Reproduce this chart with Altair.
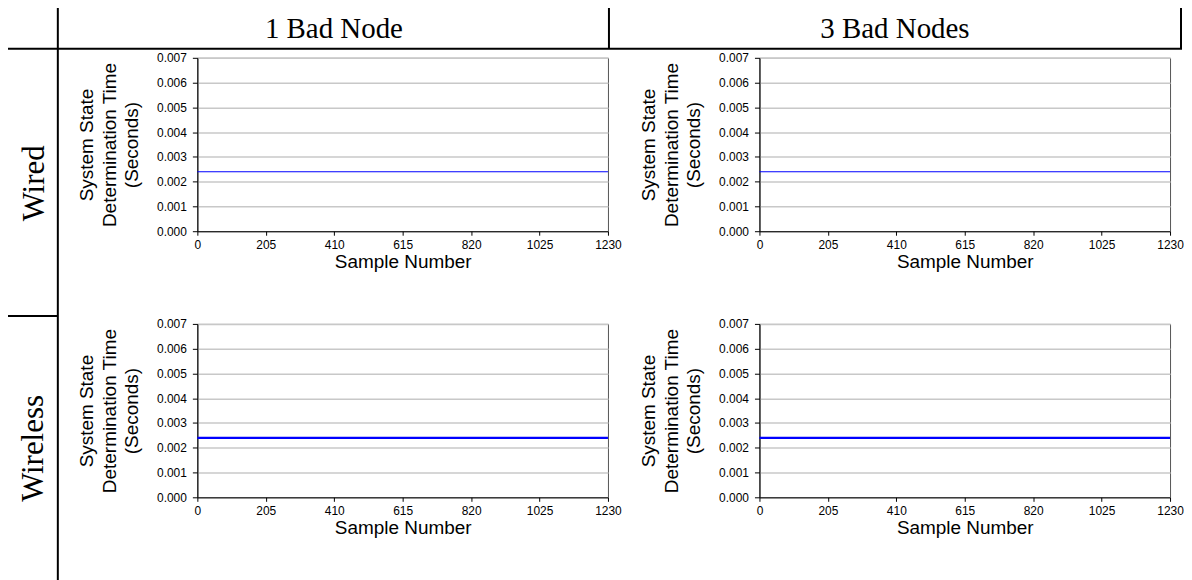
import altair as alt
import pandas as pd

# ---- data ----
col_labels = ["1 Bad Node", "3 Bad Nodes"]
row_labels = ["Wired", "Wireless"]
sample_number = [0, 205, 410, 615, 820, 1025, 1230]
wired_1bad = [0.0024, 0.0024, 0.0024, 0.0024, 0.0024, 0.0024, 0.0024]
wired_3bad = [0.0024, 0.0024, 0.0024, 0.0024, 0.0024, 0.0024, 0.0024]
wireless_1bad = [0.0024, 0.0024, 0.0024, 0.0024, 0.0024, 0.0024, 0.0024]
wireless_3bad = [0.0024, 0.0024, 0.0024, 0.0024, 0.0024, 0.0024, 0.0024]
x_ticks = [0, 205, 410, 615, 820, 1025, 1230]
y_ticks = [0.000, 0.001, 0.002, 0.003, 0.004, 0.005, 0.006, 0.007]
y_title = ["System State", "Determination Time", "(Seconds)"]
x_title = "Sample Number"

W, H = 412, 174
SERIF = "Liberation Serif"
SANS = "Liberation Sans"

one = alt.Data(values=[{"k": 0}])


def panel(values, stroke_width, extras=None):
    df = pd.DataFrame({"sample": sample_number, "time": values})
    line = alt.Chart(df).mark_line(color="#0000ff", strokeWidth=stroke_width).encode(
        x=alt.X("sample:Q",
                scale=alt.Scale(domain=[0, 1230], nice=False, zero=False),
                axis=alt.Axis(values=x_ticks, format="d", title=x_title, grid=False,
                              tickSize=4, labelPadding=4, titlePadding=2,
                              labelFlush=False)),
        y=alt.Y("time:Q",
                scale=alt.Scale(domain=[0, 0.007], nice=False),
                axis=alt.Axis(values=y_ticks, format=".3f", title=y_title,
                              grid=True, tickSize=5, labelPadding=6,
                              titlePadding=15, titleLineHeight=22.5)),
    ).properties(width=W, height=H)
    layers = [line]
    if extras:
        layers += extras
    return alt.layer(*layers).properties(width=W, height=H)


def hrule(x1, x2, y):
    return alt.Chart(one).mark_rule(color="black", strokeWidth=2).encode(
        x=alt.value(x1), x2=alt.value(x2), y=alt.value(y))


def vrule(x, y1, y2):
    return alt.Chart(one).mark_rule(color="black", strokeWidth=2).encode(
        x=alt.value(x), y=alt.value(y1), y2=alt.value(y2))


def label(text, x, y, angle=0, size=29):
    return alt.Chart(one).mark_text(
        font=SERIF, fontSize=size, color="black", align="center",
        baseline="alphabetic" if angle == 0 else "middle", angle=angle
    ).encode(x=alt.value(x), y=alt.value(y), text=alt.value(text))


# table frame and headers (positions relative to the top-left plot area)
table = [
    hrule(-190, 988, -9),
    vrule(-140, -50, 524),
    vrule(413, -50, -9),
    vrule(987, -50, -9),
    hrule(-190, -140, 259),
    label(col_labels[0], 137, -20),
    label(col_labels[1], 700, -20),
    label(row_labels[0], -163, 126, angle=270, size=31),
    label(row_labels[1], -164, 392, angle=270, size=31),
]

p_tl = panel(wired_1bad, 1.2, table)
p_tr = panel(wired_3bad, 1.2)
p_bl = panel(wireless_1bad, 2.2)
p_br = panel(wireless_3bad, 2.2)

chart = alt.concat(
    p_tl, p_tr, p_bl, p_br, columns=2,
    spacing={"row": 93, "column": 152}, bounds="flush"
).properties(
    padding={"left": -2, "top": -3, "right": 0, "bottom": 0},
    background="white"
).configure_view(
    stroke="#555555", strokeWidth=1
).configure_axis(
    labelFont=SANS, titleFont=SANS, labelColor="black", titleColor="black",
    domainColor="black", tickColor="black", labelFontSize=12,
    titleFontSize=19, titleFontWeight="normal", gridColor="#c8c8c8",
    gridWidth=1.5, domainWidth=1
)

chart.save("out.html", embed_options={"renderer": "svg", "actions": False})
